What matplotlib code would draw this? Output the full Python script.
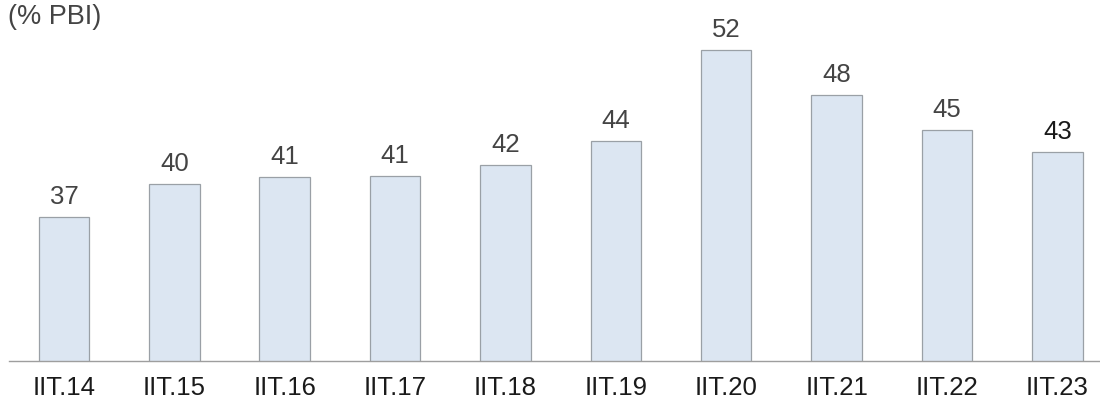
import numpy as np
import matplotlib
matplotlib.use('Agg')
import matplotlib.pyplot as plt

# data (bar heights estimated, labels rounded)
periods = ['IIT.14', 'IIT.15', 'IIT.16', 'IIT.17', 'IIT.18',
           'IIT.19', 'IIT.20', 'IIT.21', 'IIT.22', 'IIT.23']
values = [37.0, 40.0, 40.6, 40.7, 41.7, 43.8, 52.0, 47.9, 44.8, 42.8]
unit_label = '(% PBI)'

plt.rcParams['font.family'] = ['Liberation Sans', 'DejaVu Sans']

fig = plt.figure(figsize=(11, 4.01), dpi=100)
ax = fig.add_axes([8.7 / 1100, 39.7 / 401, 1 - 8.7 / 1100, 361.3 / 401])

x = np.arange(len(periods))
ax.bar(x, values, width=0.457, color='#dce6f2', edgecolor='#9aa0a6',
       linewidth=0.9, bottom=0)

# value labels above the bars
for i, v in enumerate(values):
    col = '#1a1a1a' if i == len(values) - 1 else '#444444'
    ax.annotate('%d' % round(v), (x[i], v), xytext=(0, 9.5),
                textcoords='offset points', ha='center', va='baseline',
                fontsize=18.5, color=col)

ax.set_ylim(24.1, 56.45)
ax.set_xlim(-0.5, 9.386)
ax.set_xticks(x)
ax.set_xticklabels(periods, fontsize=18.5, color='#1a1a1a')
ax.tick_params(axis='x', length=0, pad=10.5)
ax.set_yticks([])

for side in ['top', 'right', 'left']:
    ax.spines[side].set_visible(False)
ax.spines['bottom'].set_color('#9e9e9e')
ax.spines['bottom'].set_linewidth(1.0)

fig.text(8 / 1100, 1 - 24.5 / 401, unit_label, ha='left', va='baseline',
         fontsize=19.5, color='#444444')

fig.savefig('out.png', dpi=100)
